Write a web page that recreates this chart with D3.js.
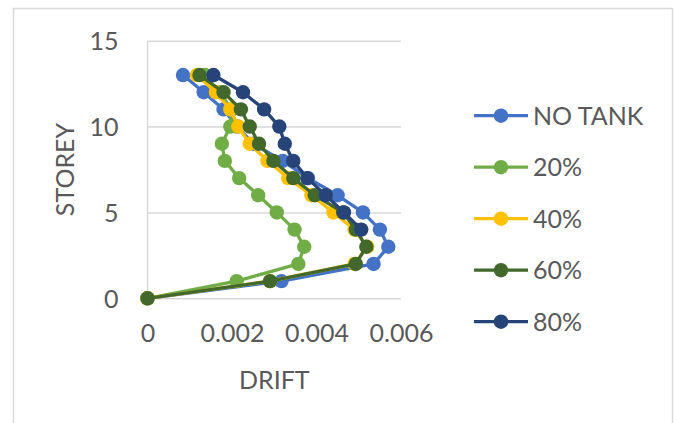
<!DOCTYPE html>
<html>
<head>
<meta charset="utf-8">
<script src="https://cdn.jsdelivr.net/npm/d3@7"></script>
<style>
  html, body { margin: 0; padding: 0; background: #ffffff; }
  svg { display: block; }
  text { font-family: Lato, "Open Sans", sans-serif; fill: #595959; }
</style>
</head>
<body>
<svg id="chart" width="674" height="423"></svg>
<script>
// Storey levels (vertical axis) and inter-storey drift for each tank fill level
const storeys = [0, 1, 2, 3, 4, 5, 6, 7, 8, 9, 10, 11, 12, 13];
const seriesNames = ["NO TANK", "20%", "40%", "60%", "80%"];
const seriesColors = ["#4472C4", "#70AD47", "#FFC000", "#43682B", "#264478"];
const driftNoTank = [0, 0.00317, 0.00535, 0.0057, 0.0055, 0.0051, 0.0045, 0.0038, 0.0032, 0.0025, 0.00212, 0.0018, 0.00133, 0.00084];
const drift20 = [0, 0.00211, 0.00357, 0.00371, 0.00348, 0.00306, 0.00262, 0.00217, 0.00183, 0.00176, 0.00196, 0.002, 0.0017, 0.00136];
const drift40 = [0, 0.0029, 0.0049, 0.0052, 0.0049, 0.0044, 0.00388, 0.00333, 0.00284, 0.00242, 0.00215, 0.00196, 0.00162, 0.00117];
const drift60 = [0, 0.0029, 0.00493, 0.00518, 0.00493, 0.00463, 0.00396, 0.00345, 0.00298, 0.00264, 0.00242, 0.00221, 0.0018, 0.00123];
const drift80 = [null, null, null, null, 0.00506, 0.00465, 0.00422, 0.00378, 0.00345, 0.00325, 0.00312, 0.00276, 0.00226, 0.00156];
const xTicks = [0, 0.002, 0.004, 0.006];
const yTicks = [0, 5, 10, 15];

const allDrift = [driftNoTank, drift20, drift40, drift60, drift80];
const series = seriesNames.map((name, i) => ({
  name,
  color: seriesColors[i],
  points: storeys.map((s, j) => ({ storey: s, drift: allDrift[i][j] }))
}));

const svg = d3.select("#chart");

// Outer chart frame
svg.append("rect")
  .attr("x", 13.5).attr("y", 8.5)
  .attr("width", 659).attr("height", 430)
  .attr("fill", "#ffffff")
  .attr("stroke", "#d9d9d9")
  .attr("stroke-width", 1.5);

const plot = { left: 147.5, right: 401, top: 40.7, bottom: 298.3 };

const x = d3.scaleLinear().domain([0, 0.006]).range([plot.left, plot.right]);
const y = d3.scaleLinear().domain([0, 15]).range([plot.bottom, plot.top]);

// Horizontal gridlines
const yAxis = d3.axisLeft(y).tickValues(yTicks).tickSize(-(plot.right - plot.left)).tickPadding(29)
  .tickFormat(d3.format("d"));
const gy = svg.append("g").attr("transform", `translate(${plot.left},0)`).call(yAxis);
gy.select(".domain").remove();
gy.selectAll(".tick line").attr("stroke", "#d9d9d9").attr("stroke-width", 1.5);
gy.selectAll(".tick text")
  .attr("font-size", 25).attr("fill", "#595959")
  .attr("dy", "0.36em");

// Vertical value axis line
svg.append("line")
  .attr("x1", plot.left).attr("x2", plot.left)
  .attr("y1", plot.top).attr("y2", plot.bottom)
  .attr("stroke", "#d9d9d9").attr("stroke-width", 1.5);

// Horizontal axis labels
const xAxis = d3.axisBottom(x).tickValues(xTicks).tickSize(0).tickPadding(26)
  .tickFormat(d => d === 0 ? "0" : d3.format(".3f")(d));
const gx = svg.append("g").attr("transform", `translate(0,${plot.bottom})`).call(xAxis);
gx.select(".domain").remove();
gx.selectAll(".tick text").attr("font-size", 25).attr("fill", "#595959");

// Axis titles
svg.append("text")
  .attr("x", (plot.left + plot.right) / 2).attr("y", 389)
  .attr("text-anchor", "middle").attr("font-size", 25)
  .text("DRIFT");
svg.append("text")
  .attr("transform", `translate(74,${(plot.top + plot.bottom) / 2}) rotate(-90)`)
  .attr("text-anchor", "middle").attr("font-size", 25)
  .text("STOREY");

// Series lines and markers
const line = d3.line()
  .defined(d => d.drift !== null)
  .x(d => x(d.drift))
  .y(d => y(d.storey));

series.forEach(s => {
  const g = svg.append("g");
  g.append("path")
    .datum(s.points)
    .attr("d", line)
    .attr("fill", "none")
    .attr("stroke", s.color)
    .attr("stroke-width", 3.3)
    .attr("stroke-linejoin", "round");
  g.selectAll("circle")
    .data(s.points.filter(d => d.drift !== null))
    .join("circle")
    .attr("cx", d => x(d.drift))
    .attr("cy", d => y(d.storey))
    .attr("r", 7.2)
    .attr("fill", s.color);
});

// Legend
const legend = svg.append("g");
const legendY = d3.scalePoint().domain(seriesNames).range([115.7, 321.7]);
series.forEach(s => {
  const ly = legendY(s.name);
  legend.append("line")
    .attr("x1", 474).attr("x2", 528)
    .attr("y1", ly).attr("y2", ly)
    .attr("stroke", s.color).attr("stroke-width", 3.3);
  legend.append("circle")
    .attr("cx", 501).attr("cy", ly).attr("r", 7.2)
    .attr("fill", s.color);
  legend.append("text")
    .attr("x", 533).attr("y", ly)
    .attr("dy", "0.36em")
    .attr("font-size", 25)
    .text(s.name);
});
</script>
</body>
</html>
